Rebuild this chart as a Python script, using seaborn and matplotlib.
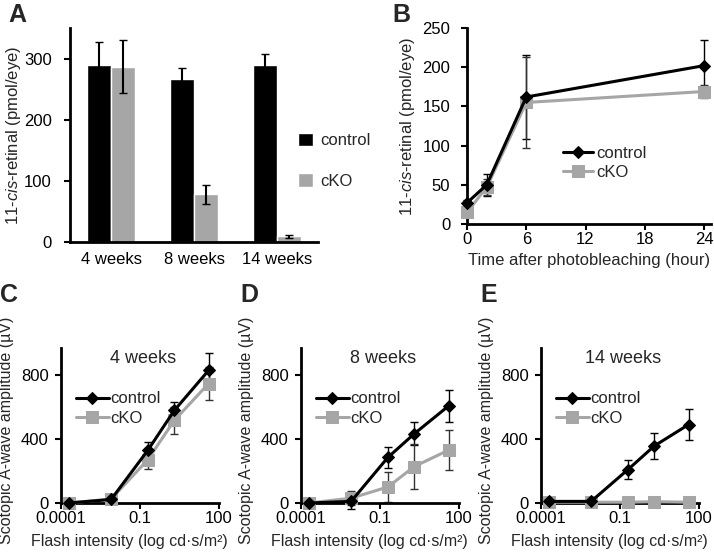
import numpy as np
import pandas as pd
import matplotlib
matplotlib.use('Agg')
import matplotlib.pyplot as plt
import seaborn as sns

sns.set_style('ticks')
plt.rcParams['font.family'] = ['Liberation Sans', 'DejaVu Sans']
plt.rcParams['mathtext.fontset'] = 'custom'
plt.rcParams['mathtext.rm'] = 'Liberation Sans'
plt.rcParams['mathtext.it'] = 'Liberation Sans:italic'

# A: 11-cis-retinal content by age
ages = ['4 weeks', '8 weeks', '14 weeks']
ret_control = [289, 266, 289]
ret_control_err = [38, 18, 18]
ret_cko = [287, 78, 9]
ret_cko_err = [44, 16, 2]

# B: regeneration after photobleaching
hours = [0, 2, 6, 24]
regen_control = [27, 50, 162, 202]
regen_control_err = [3, 14, 53, 33]
regen_cko = [15, 47, 155, 169]
regen_cko_err = [3, 10, 58, 8]

# C-E: scotopic a-wave vs flash intensity
flash = [0.0002, 0.008, 0.2, 2, 40]
erg_titles = ['4 weeks', '8 weeks', '14 weeks']
erg_control = [[0, 22, 329, 576, 825],
               [0, 10, 284, 431, 604],
               [10, 10, 208, 355, 488]]
erg_control_err = [[3, 10, 53, 55, 108],
                   [3, 50, 63, 73, 98],
                   [3, 5, 57, 80, 96]]
erg_cko = [[0, 25, 270, 514, 743],
           [0, 30, 100, 227, 329],
           [5, 5, 5, 8, 5]]
erg_cko_err = [[3, 10, 58, 83, 102],
               [3, 45, 95, 140, 126],
               [3, 3, 3, 5, 3]]

BLACK = 'black'
GREY = '#a6a6a6'
W, H = 714, 554


def axbox(left, top, right, bottom):
    return [left / W, 1 - bottom / H, (right - left) / W, (bottom - top) / H]


def style(ax, ypad=5):
    sns.despine(ax=ax)
    for s in ['left', 'bottom']:
        ax.spines[s].set_linewidth(2)
        ax.spines[s].set_color('black')
    ax.tick_params(direction='out', length=4, width=1.5, labelsize=12, colors='black', pad=2)
    ax.tick_params(axis='y', pad=ypad)


def lines(ax, x, yc, ec, yk, ek):
    sns.lineplot(x=x, y=yc, color=BLACK, marker='D', markersize=6, linewidth=2.2,
                 markeredgecolor=BLACK, label='control', ax=ax, clip_on=False, zorder=4)
    sns.lineplot(x=x, y=yk, color=GREY, marker='s', markersize=8, linewidth=2.2,
                 markeredgecolor=GREY, label='cKO', ax=ax, clip_on=False, zorder=3)
    ax.errorbar(x, yc, yerr=ec, fmt='none', ecolor=BLACK, elinewidth=1, capsize=3, zorder=2, clip_on=False)
    ax.errorbar(x, yk, yerr=ek, fmt='none', ecolor='#333333', elinewidth=1, capsize=3, zorder=2, clip_on=False)


fig = plt.figure(figsize=(W / 100, H / 100), dpi=100)

# ---- A
ax = fig.add_axes(axbox(70, 28, 318, 242))
df = pd.DataFrame({
    'age': ages * 2,
    'group': ['control'] * 3 + ['cKO'] * 3,
    'value': ret_control + ret_cko,
})
sns.barplot(data=df, x='age', y='value', hue='group', palette={'control': BLACK, 'cKO': GREY},
            width=0.58, errorbar=None, saturation=1, ax=ax)
for cont, err in zip(ax.containers, [ret_control_err, ret_cko_err]):
    xs = [b.get_x() + b.get_width() / 2 for b in cont]
    hs = [b.get_height() for b in cont]
    ax.errorbar(xs, hs, yerr=err, fmt='none', ecolor=BLACK, elinewidth=1.5, capsize=3)
ax.set_xlim(-0.5, 2.5)
ax.set_ylim(0, 350)
ax.set_yticks([0, 100, 200, 300])
ax.set_xlabel('')
ax.set_ylabel('11-$\\it{cis}$-retinal (pmol/eye)', fontsize=12)
style(ax, ypad=9)
ax.tick_params(axis='x', length=0, pad=7)
ax.yaxis.set_label_coords(-0.19, 0.5)
ax.legend(loc='center left', bbox_to_anchor=(0.86, 0.38), frameon=False, fontsize=12,
          handlelength=0.9, handleheight=0.9, labelspacing=1.5, handletextpad=0.4)

# ---- B
ax = fig.add_axes(axbox(467, 28, 711, 224))
lines(ax, hours, regen_control, regen_control_err, regen_cko, regen_cko_err)
ax.set_xlim(0, 24.7)
ax.set_ylim(0, 250)
ax.set_xticks([0, 6, 12, 18, 24])
ax.set_yticks([0, 50, 100, 150, 200, 250])
ax.set_xlabel('Time after photobleaching (hour)', fontsize=12)
ax.set_ylabel('11-$\\it{cis}$-retinal (pmol/eye)', fontsize=12)
style(ax, ypad=8)
ax.legend(loc='center left', bbox_to_anchor=(0.33, 0.31), frameon=False, fontsize=12,
          handlelength=1.8, handletextpad=0.2, labelspacing=0.25)

# ---- C-E
lefts = [61, 301, 541]
for i in range(3):
    l = lefts[i]
    ax = fig.add_axes(axbox(l, 348, l + 158, 503))
    lines(ax, flash, erg_control[i], erg_control_err[i], erg_cko[i], erg_cko_err[i])
    ax.set_xscale('log')
    ax.set_xlim(1e-4, 100)
    ax.set_ylim(0, 965)
    ax.set_xticks([1e-4, 0.1, 100])
    ax.set_xticklabels(['0.0001', '0.1', '100'])
    ax.xaxis.set_minor_locator(matplotlib.ticker.NullLocator())
    ax.set_yticks([0, 400, 800])
    ax.set_xlabel('Flash intensity (log cd·s/m²)', fontsize=11.5)
    ax.set_ylabel('Scotopic A-wave amplitude (µV)', fontsize=11.5)
    style(ax, ypad=5)
    ax.xaxis.set_label_coords(0.43, -0.2)
    ax.yaxis.set_label_coords(-0.3, 0.47)
    ax.text(0.52, 0.93, erg_titles[i], transform=ax.transAxes, ha='center', va='center', fontsize=13)
    ax.legend(loc='center left', bbox_to_anchor=(0.05, 0.61), frameon=False, fontsize=12,
              handlelength=2.0, handletextpad=0.1, labelspacing=0.25, borderaxespad=0)

# panel letters
for letter, x, y in [('A', 8, 3), ('B', 392, 3), ('C', 0, 283), ('D', 240, 283), ('E', 480, 283)]:
    fig.text(x / W, 1 - y / H, letter, fontsize=18, fontweight='bold', ha='left', va='top')

fig.savefig('out.png', dpi=100)
